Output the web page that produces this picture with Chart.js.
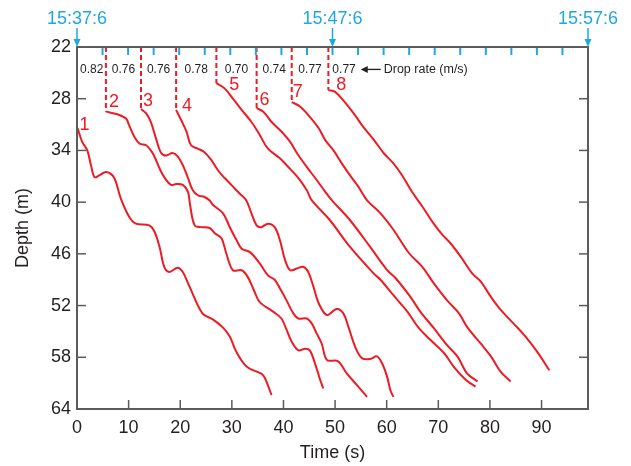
<!DOCTYPE html>
<html>
<head>
<meta charset="utf-8">
<script src="https://cdn.jsdelivr.net/npm/chart.js@4.4.1/dist/chart.umd.min.js"></script>
<style>
  html, body { margin: 0; padding: 0; background: #fff; }
  #wrap { width: 631px; height: 466px; }
</style>
</head>
<body>
<div id="wrap"><canvas id="chart" width="631" height="466"></canvas></div>
<script>
// drop profiles: time (s) vs depth (m)
const drop1Time = [0.1, 1.0, 2.0, 2.7, 3.4, 4.3, 5.6, 6.9, 7.5, 8.5, 10.1, 11.4, 14.0, 15.0, 16.0, 16.9, 17.9, 19.5, 20.5, 21.8, 24.3, 26.3, 28.2, 29.6, 30.9, 32.9, 35.7, 36.4, 37.7];
const drop1Depth = [31.4, 33.0, 34.0, 35.7, 37.1, 36.9, 36.5, 36.9, 37.6, 39.6, 41.7, 42.5, 42.7, 43.4, 45.2, 47.5, 48.1, 47.6, 48.1, 49.8, 52.9, 53.6, 54.5, 55.6, 57.4, 59.1, 59.9, 60.4, 62.4];
const drop2Time = [5.6, 7.8, 9.5, 10.1, 11.1, 12.1, 13.4, 14.3, 15.0, 16.0, 16.9, 18.2, 19.2, 20.5, 21.5, 21.9, 22.8, 24.1, 25.7, 26.7, 28.0, 28.9, 30.2, 31.9, 33.1, 34.4, 35.4, 38.0, 39.6, 40.6, 41.6, 42.9, 44.2, 45.1, 46.1, 47.1, 47.7];
const drop2Depth = [29.5, 29.8, 30.3, 31.1, 32.4, 33.2, 33.4, 34.0, 34.7, 36.1, 37.1, 38.0, 37.9, 38.0, 38.8, 40.3, 42.7, 42.9, 43.0, 43.6, 44.2, 45.9, 47.9, 47.9, 48.7, 50.4, 51.6, 52.7, 53.5, 54.8, 56.2, 57.2, 57.0, 57.2, 58.7, 60.6, 61.6];
const drop3Time = [12.4, 13.4, 14.3, 15.3, 16.3, 17.3, 18.5, 19.5, 20.5, 21.5, 22.4, 23.4, 24.7, 25.7, 26.3, 28.3, 29.6, 30.9, 31.9, 33.5, 35.4, 37.0, 38.3, 39.3, 40.6, 41.9, 42.9, 44.5, 45.5, 46.4, 47.4, 48.4, 50.3, 51.0, 52.3, 54.2, 56.2];
const drop3Depth = [29.2, 29.7, 30.7, 32.6, 34.3, 34.6, 34.3, 34.7, 35.7, 37.2, 38.6, 39.2, 39.4, 39.8, 40.3, 41.3, 42.9, 44.4, 45.4, 45.8, 47.1, 48.5, 49.0, 50.0, 51.4, 52.9, 53.5, 53.5, 54.1, 55.2, 56.4, 58.3, 58.4, 58.7, 59.9, 61.2, 62.6];
const drop4Time = [19.2, 20.2, 21.2, 22.1, 23.4, 24.7, 26.0, 27.3, 28.6, 29.9, 31.5, 32.8, 33.8, 34.8, 35.7, 37.0, 38.3, 39.3, 40.3, 41.3, 42.6, 43.8, 44.8, 45.8, 46.8, 48.4, 50.3, 51.6, 52.6, 53.9, 55.2, 56.8, 58.1, 59.1, 60.1, 60.7, 61.3];
const drop4Depth = [29.3, 30.5, 31.8, 33.4, 33.8, 34.2, 35.1, 36.3, 37.2, 38.0, 39.0, 39.8, 41.3, 42.7, 42.9, 42.5, 42.9, 44.4, 46.7, 47.9, 47.7, 47.5, 48.1, 49.8, 51.7, 53.1, 52.4, 52.9, 54.5, 56.8, 58.1, 58.2, 57.9, 58.7, 60.3, 61.8, 62.6];
const drop5Time = [27.0, 28.6, 30.2, 31.9, 33.8, 35.4, 37.0, 39.3, 40.9, 42.9, 44.5, 45.5, 49.0, 52.9, 57.5, 58.8, 61.3, 64.0, 66.2, 68.5, 71.1, 73.0, 75.3, 77.2];
const drop5Depth = [26.2, 26.8, 28.0, 29.3, 30.7, 32.2, 33.8, 34.9, 35.9, 37.2, 38.6, 39.8, 42.1, 45.2, 48.3, 49.0, 50.8, 52.7, 54.6, 56.0, 57.5, 59.1, 60.6, 61.4];
const drop6Time = [34.8, 36.1, 37.7, 39.6, 41.3, 42.6, 44.5, 46.4, 48.1, 49.4, 52.9, 56.8, 60.1, 61.7, 64.6, 66.5, 69.1, 71.7, 73.7, 75.6, 77.6];
const drop6Depth = [29.1, 29.5, 30.7, 31.8, 33.0, 34.3, 35.9, 37.4, 38.8, 39.8, 42.1, 45.2, 47.9, 48.8, 51.0, 52.7, 54.6, 56.6, 57.9, 59.9, 60.8];
const drop7Time = [41.6, 43.2, 45.1, 46.8, 48.1, 49.7, 51.3, 52.9, 54.5, 56.2, 58.8, 61.3, 64.3, 66.9, 69.1, 71.7, 74.0, 75.6, 78.2, 80.2, 82.1, 84.0];
const drop7Depth = [28.4, 28.9, 30.1, 31.4, 32.8, 34.0, 35.5, 36.9, 38.2, 39.8, 41.3, 43.2, 45.9, 47.5, 49.4, 51.4, 52.9, 54.5, 56.4, 57.9, 59.7, 60.8];
const drop8Time = [48.7, 50.0, 51.6, 53.6, 55.5, 57.8, 59.4, 61.3, 63.0, 64.9, 66.9, 69.1, 70.8, 72.4, 74.3, 76.6, 78.2, 80.2, 82.1, 85.4, 86.6, 89.2, 91.5];
const drop8Depth = [27.0, 27.2, 28.2, 29.7, 31.3, 33.0, 34.3, 35.5, 36.9, 38.8, 40.5, 42.5, 43.8, 44.8, 46.3, 48.3, 49.2, 51.0, 52.5, 54.6, 55.4, 57.4, 59.5];

const dropNames = ["1", "2", "3", "4", "5", "6", "7", "8"];
const dropRates = [0.82, 0.76, 0.76, 0.78, 0.70, 0.74, 0.77, 0.77];

const xTicks = [0, 10, 20, 30, 40, 50, 60, 70, 80, 90];
const yTicks = [22, 28, 34, 40, 46, 52, 58, 64];
const minuteTicks = [1, 2, 3, 4, 5, 6, 7, 8, 9, 10, 11, 12, 13, 14, 15, 16, 17, 18, 19];
const clockMinutes = [0, 10, 20];
const clockLabels = ["15:37:6", "15:47:6", "15:57:6"];

const RED = "#ed1c24";
const BLUE = "#1fa8e0";
const INK = "#231f20";
const FRAME = "#5b5b5b";
const FONT = "'Liberation Sans', Arial, Helvetica, sans-serif";

const drops = [
  [drop1Time, drop1Depth], [drop2Time, drop2Depth], [drop3Time, drop3Depth], [drop4Time, drop4Depth],
  [drop5Time, drop5Depth], [drop6Time, drop6Depth], [drop7Time, drop7Depth], [drop8Time, drop8Depth],
];
// pixel nudges of the red drop numbers from each drop's first point
const nameOffsets = [[7, -3], [8, -10], [7, -8], [11, -4], [18, 2], [8, -8], [6, -10], [13, -5]];

Chart.defaults.font.family = FONT;

function seg(ctx, x1, y1, x2, y2) {
  ctx.beginPath();
  ctx.moveTo(x1, y1);
  ctx.lineTo(x2, y2);
  ctx.stroke();
}

const decor = {
  id: "decor",
  afterDatasetsDraw(chart) {
    const { ctx, chartArea: a } = chart;
    const { x, y, x2 } = chart.scales;
    ctx.save();

    // dashed release lines from the surface down to each drop's start
    ctx.strokeStyle = RED;
    ctx.lineWidth = 2;
    ctx.setLineDash([5, 3]);
    drops.slice(1).forEach(([t, d]) => {
      const px = x.getPixelForValue(t[0]);
      seg(ctx, px, a.top, px, y.getPixelForValue(d[0]));
    });
    ctx.setLineDash([]);

    // frame + inward ticks
    ctx.strokeStyle = FRAME;
    ctx.lineWidth = 2;
    ctx.strokeRect(a.left, a.top, a.right - a.left, a.bottom - a.top);
    ctx.lineWidth = 1.5;
    xTicks.forEach((v) => {
      const px = x.getPixelForValue(v);
      seg(ctx, px, a.bottom, px, a.bottom - 9);
    });
    yTicks.forEach((v) => {
      const py = y.getPixelForValue(v);
      seg(ctx, a.left, py, a.left + 9, py);
      seg(ctx, a.right, py, a.right - 9, py);
    });

    // clock axis on top
    ctx.strokeStyle = BLUE;
    ctx.fillStyle = BLUE;
    ctx.lineWidth = 2;
    minuteTicks.forEach((m) => {
      const px = x2.getPixelForValue(m);
      seg(ctx, px, a.top + 1, px, a.top + 8);
    });
    ctx.font = `18px ${FONT}`;
    ctx.textAlign = "center";
    ctx.textBaseline = "middle";
    clockMinutes.forEach((m, i) => {
      const px = x2.getPixelForValue(m);
      ctx.lineWidth = 1.5;
      seg(ctx, px, a.top - 19, px, a.top - 6);
      ctx.beginPath();
      ctx.moveTo(px, a.top);
      ctx.lineTo(px - 3.5, a.top - 8);
      ctx.lineTo(px + 3.5, a.top - 8);
      ctx.closePath();
      ctx.fill();
      ctx.fillText(clockLabels[i], px, a.top - 28);
    });

    // drop numbers
    ctx.fillStyle = RED;
    ctx.font = `18px ${FONT}`;
    drops.forEach(([t, d], i) => {
      const px = x.getPixelForValue(t[0]) + nameOffsets[i][0];
      const py = y.getPixelForValue(d[0]) + nameOffsets[i][1];
      ctx.fillText(dropNames[i], px, py);
    });

    // drop rates between the release lines
    ctx.fillStyle = INK;
    ctx.font = `12px ${FONT}`;
    const rateY = y.getPixelForValue(24.6);
    const starts = drops.map(([t]) => t[0]);
    dropRates.forEach((r, i) => {
      const txt = r.toFixed(2);
      if (i < starts.length - 1) {
        ctx.textAlign = "center";
        ctx.fillText(txt, x.getPixelForValue((starts[i] + starts[i + 1]) / 2), rateY);
      } else {
        ctx.textAlign = "left";
        const lx = x.getPixelForValue(starts[i]) + 4;
        ctx.fillText(txt, lx, rateY);
        const ax = lx + ctx.measureText(txt).width + 5;
        ctx.strokeStyle = INK;
        ctx.lineWidth = 1.3;
        seg(ctx, ax + 5, rateY, ax + 20, rateY);
        ctx.beginPath();
        ctx.moveTo(ax, rateY);
        ctx.lineTo(ax + 7, rateY - 3.5);
        ctx.lineTo(ax + 7, rateY + 3.5);
        ctx.closePath();
        ctx.fill();
        ctx.font = `12.5px ${FONT}`;
        ctx.fillText("Drop rate (m/s)", ax + 23, rateY);
      }
    });
    ctx.restore();
  },
};

new Chart(document.getElementById("chart"), {
  type: "line",
  data: {
    datasets: drops.map(([t, d]) => ({
      data: t.map((v, i) => ({ x: v, y: d[i] })),
      borderColor: RED,
      borderWidth: 2,
      pointRadius: 0,
      tension: 0.35,
      fill: false,
    })),
  },
  options: {
    responsive: false,
    animation: false,
    devicePixelRatio: 1,
    layout: { padding: { left: 0, right: 43, top: 0, bottom: 0 } },
    plugins: { legend: { display: false }, tooltip: { enabled: false } },
    scales: {
      x: {
        type: "linear",
        position: "bottom",
        min: 0,
        max: 99,
        afterBuildTicks: (s) => { s.ticks = xTicks.map((v) => ({ value: v })); },
        afterFit: (s) => { s.height = 57; },
        grid: { display: false, drawTicks: false },
        border: { display: false },
        ticks: { color: INK, font: { size: 18 }, padding: 8, maxRotation: 0 },
        title: { display: true, text: "Time (s)", color: INK, font: { size: 18 }, padding: { top: 0, bottom: 2 } },
      },
      x2: {
        type: "linear",
        position: "top",
        min: 0,
        max: 20,
        afterFit: (s) => { s.height = 47; },
        grid: { display: false, drawTicks: false },
        border: { display: false },
        ticks: { display: false },
      },
      y: {
        type: "linear",
        reverse: true,
        min: 22,
        max: 64,
        afterBuildTicks: (s) => { s.ticks = yTicks.map((v) => ({ value: v })); },
        afterFit: (s) => { s.width = 77; },
        grid: { display: false, drawTicks: false },
        border: { display: false },
        ticks: { color: INK, font: { size: 18 }, padding: 6 },
        title: { display: true, text: "Depth (m)", color: INK, font: { size: 18 }, padding: { top: 12, bottom: 0 } },
      },
    },
  },
  plugins: [decor],
});
</script>
</body>
</html>
